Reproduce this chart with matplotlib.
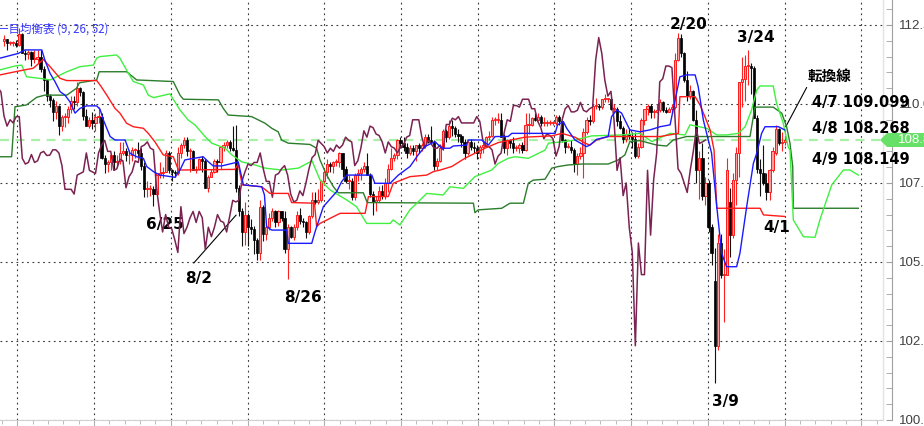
import numpy as np
import matplotlib
matplotlib.use("Agg")
import matplotlib.pyplot as plt
import matplotlib.transforms as mtransforms
from matplotlib.patches import Polygon
from matplotlib.ticker import FixedLocator, MultipleLocator, FormatStrFormatter

plt.rcParams['font.family'] = ['Liberation Sans', 'DejaVu Sans']

# ---------------- daily OHLC, 2019-04-17 .. 2020-04-09 (weekdays) ----------------
opens = [
    # Apr 2019
    111.98, 112.07, 111.93, 111.93, 111.94, 111.86, 112.22, 111.62, 111.57, 111.64,
    # May
    111.41, 111.43, 111.50, 111.10, 110.75, 110.25, 110.12, 109.75, 109.95, 109.30, 109.60, 109.60,
    109.85, 110.08, 110.07, 110.52, 110.38, 109.62, 109.30, 109.50, 109.40, 109.60, 109.60,
    # Jun
    108.28, 108.10, 108.15, 108.40, 108.15, 108.20, 108.45, 108.50, 108.37, 108.38, 108.55, 108.55,
    108.45, 108.05, 107.30, 107.30, 107.30, 107.15, 107.75, 107.80,
    # Jul
    107.85, 108.45, 107.90, 107.85, 107.80, 108.45, 108.70, 108.85, 108.50, 108.50, 107.90, 107.95,
    108.25, 108.20, 107.35, 107.70, 107.85, 108.20, 108.15, 108.65, 108.70, 108.80, 108.60,
    # Aug
    108.55, 107.35, 106.60, 105.95, 106.50, 106.10, 106.05, 105.70, 105.30, 106.75, 105.90, 106.10,
    106.40, 106.60, 106.25, 106.60, 106.40, 105.40, 106.10, 105.80, 106.10, 106.50,
    # Sep
    106.30, 106.25, 105.95, 106.45, 106.95, 106.90, 106.95, 107.55, 107.85, 108.10, 108.05, 108.15,
    108.15, 108.45, 107.95, 107.55, 107.55, 107.05, 107.75, 107.80, 107.95,
    # Oct
    108.05, 107.75, 107.15, 106.90, 106.95, 107.25, 107.10, 107.50, 107.95, 108.30, 108.40, 108.85,
    108.75, 108.65, 108.45, 108.60, 108.50, 108.70, 108.60, 108.70, 108.95, 108.85, 108.80,
    # Nov
    108.05, 108.20, 108.60, 109.15, 108.95, 109.30, 109.25, 109.05, 109.00, 108.80, 108.45, 108.80,
    108.65, 108.60, 108.45, 108.65, 108.70, 108.95, 109.00, 109.50, 109.50,
    # Dec
    109.50, 108.95, 108.60, 108.85, 108.75, 108.60, 108.60, 108.70, 108.55, 109.35, 109.35, 109.55,
    109.50, 109.60, 109.40, 109.40, 109.40, 109.40, 109.40, 109.60, 109.45, 108.85,
    # Jan 2020
    108.65, 108.65, 108.55, 108.10, 108.35, 108.45, 109.10, 109.50, 109.45, 109.95, 109.95, 109.90,
    110.15, 110.15, 110.15, 109.85, 109.85, 109.45, 109.25, 108.90, 109.05, 109.00, 108.90,
    # Feb
    108.35, 108.65, 109.50, 109.85, 109.95, 109.75, 109.75, 109.80, 110.05, 109.80, 109.75, 109.85,
    109.90, 111.40, 112.10, 111.60, 110.75, 110.25, 110.40, 109.50,
    # Mar
    107.90, 108.30, 107.10, 107.50, 106.10, 104.40, 102.35, 105.60, 104.60, 104.60, 106.90, 105.85,
    107.60, 108.45, 110.70, 110.80, 111.20, 111.20, 111.15, 109.55, 107.95, 107.80,
    # Apr
    107.50, 107.20, 107.90, 108.45, 109.20, 108.75, 108.80,
]
highs = [
    112.17, 112.07, 111.98, 112.00, 112.04, 112.40, 112.25, 111.70, 111.72, 111.68,
    111.70, 111.70, 111.70, 111.20, 110.80, 110.30, 110.20, 110.10, 109.98, 109.65, 109.70, 109.95,
    110.25, 110.25, 110.68, 110.55, 110.40, 109.85, 109.60, 109.75, 109.70, 109.90, 109.70,
    108.40, 108.22, 108.42, 108.50, 108.40, 108.80, 108.80, 108.60, 108.55, 108.65, 108.60, 108.80,
    108.60, 108.15, 107.55, 107.45, 107.40, 107.80, 108.15, 108.00,
    108.55, 108.50, 107.95, 107.90, 108.65, 108.75, 108.95, 108.95, 108.60, 108.55, 108.05, 108.30,
    108.35, 108.25, 107.75, 107.95, 108.25, 108.25, 108.65, 108.80, 108.85, 108.85, 109.30,
    109.32, 107.45, 106.70, 106.90, 106.55, 106.35, 106.15, 105.75, 106.97, 106.80, 106.30, 106.55,
    106.70, 106.65, 106.65, 106.60, 106.60, 106.20, 106.15, 106.20, 106.60, 106.70,
    106.40, 106.30, 106.50, 107.20, 107.20, 107.30, 107.60, 107.95, 108.25, 108.15, 108.20, 108.25,
    108.48, 108.45, 108.05, 107.75, 107.65, 107.80, 107.95, 108.00, 108.15,
    108.45, 107.80, 107.25, 107.10, 107.40, 107.45, 107.65, 108.10, 108.60, 108.45, 108.90, 108.95,
    108.95, 108.75, 108.70, 108.70, 108.70, 108.75, 108.75, 109.05, 109.05, 109.30, 108.85,
    108.30, 108.70, 109.20, 109.20, 109.50, 109.50, 109.30, 109.20, 109.05, 108.90, 108.85, 108.90,
    108.80, 108.70, 108.70, 108.80, 109.00, 109.15, 109.60, 109.60, 109.70,
    109.70, 109.05, 108.90, 108.90, 108.95, 108.70, 108.75, 108.80, 109.70, 109.70, 109.60, 109.70,
    109.70, 109.65, 109.60, 109.50, 109.50, 109.45, 109.65, 109.65, 109.50, 108.90,
    108.75, 108.85, 108.60, 108.45, 108.65, 109.25, 109.60, 109.65, 110.00, 110.20, 110.00, 110.15,
    110.30, 110.20, 110.20, 110.00, 109.90, 109.65, 109.30, 109.20, 109.25, 109.10, 109.10,
    108.75, 109.55, 109.85, 110.00, 110.00, 109.85, 110.00, 110.15, 110.10, 109.90, 109.90, 110.00,
    111.60, 112.23, 112.20, 111.65, 111.05, 110.60, 110.45, 109.80,
    108.50, 108.75, 107.70, 107.60, 106.20, 105.45, 105.90, 105.90, 105.40, 108.30, 107.35, 107.80,
    108.65, 110.70, 111.50, 111.55, 111.71, 111.30, 111.20, 109.65, 108.25, 108.70,
    107.80, 107.95, 108.65, 109.35, 109.25, 109.10, 109.00,
]
lows = [
    111.82, 111.70, 111.86, 111.82, 111.80, 111.82, 111.60, 111.38, 111.43, 111.20,
    111.30, 111.30, 111.00, 110.40, 110.10, 109.90, 109.47, 109.52, 109.02, 109.15, 109.27, 109.40,
    109.70, 109.85, 109.95, 110.25, 109.48, 109.30, 109.25, 109.20, 109.15, 109.40, 108.25,
    107.83, 107.85, 107.90, 107.90, 108.00, 108.10, 108.40, 108.20, 108.10, 108.20, 108.30, 108.30,
    107.90, 107.05, 107.05, 107.10, 106.78, 107.15, 107.65, 107.65,
    107.85, 107.80, 107.55, 107.70, 107.75, 108.30, 108.60, 108.35, 107.85, 107.90, 107.80, 107.90,
    107.85, 107.35, 107.20, 107.70, 107.80, 107.85, 107.95, 108.50, 108.60, 108.50, 108.50,
    107.20, 106.45, 105.50, 105.55, 105.50, 105.90, 105.25, 105.05, 105.05, 105.65, 105.70, 106.00,
    106.30, 106.10, 106.15, 106.30, 105.30, 104.45, 105.75, 105.70, 106.00, 106.20,
    106.10, 105.75, 105.90, 106.40, 106.85, 106.85, 106.90, 107.45, 107.65, 107.85, 107.80, 108.05,
    108.00, 107.70, 107.50, 107.30, 106.95, 106.95, 107.55, 107.60, 107.85,
    107.75, 107.05, 106.50, 106.60, 106.90, 107.00, 107.00, 107.20, 107.90, 108.20, 108.25, 108.60,
    108.50, 108.30, 108.40, 108.40, 108.20, 108.45, 108.50, 108.65, 108.75, 108.75, 107.90,
    107.90, 108.15, 108.55, 108.80, 108.90, 109.00, 108.95, 108.80, 108.65, 108.25, 108.40, 108.55,
    108.45, 108.25, 108.30, 108.45, 108.65, 108.85, 108.95, 109.35, 109.40,
    108.95, 108.45, 108.40, 108.60, 108.45, 108.50, 108.45, 108.45, 108.50, 109.05, 109.30, 109.45,
    109.45, 109.30, 109.30, 109.30, 109.35, 109.35, 109.35, 109.35, 108.80, 108.45,
    108.60, 108.45, 107.85, 107.75, 108.25, 107.65, 109.05, 109.35, 109.40, 109.85, 109.80, 109.85,
    110.05, 110.05, 109.80, 109.75, 109.30, 109.20, 108.75, 108.80, 108.90, 108.60, 108.30,
    108.30, 108.60, 109.35, 109.65, 109.55, 109.55, 109.70, 109.75, 109.75, 109.70, 109.75, 109.70,
    109.85, 111.35, 111.50, 110.70, 110.10, 110.15, 109.45, 107.50,
    107.00, 106.95, 106.80, 105.95, 104.90, 101.18, 102.20, 104.50, 103.10, 104.60, 105.15, 105.75,
    106.80, 107.70, 109.90, 110.10, 110.60, 110.30, 109.55, 107.80, 107.10, 107.45,
    106.95, 106.95, 107.85, 108.40, 108.70, 108.50, 108.70,
]
closes = [
    112.07, 111.93, 111.93, 111.94, 111.86, 112.22, 111.62, 111.57, 111.64, 111.41,
    111.43, 111.50, 111.10, 110.75, 110.25, 110.12, 109.75, 109.95, 109.30, 109.60, 109.60, 109.85,
    110.08, 110.07, 110.52, 110.38, 109.62, 109.30, 109.50, 109.40, 109.60, 109.60, 108.28,
    108.10, 108.15, 108.40, 108.15, 108.20, 108.45, 108.50, 108.37, 108.38, 108.55, 108.55, 108.45,
    108.05, 107.30, 107.30, 107.30, 107.15, 107.75, 107.80, 107.85,
    108.45, 107.90, 107.85, 107.80, 108.45, 108.70, 108.85, 108.50, 108.50, 107.90, 107.95, 108.25,
    108.20, 107.35, 107.70, 107.85, 108.20, 108.15, 108.65, 108.70, 108.80, 108.60, 108.55,
    107.35, 106.60, 105.95, 106.50, 106.10, 106.05, 105.70, 105.30, 106.75, 105.90, 106.10, 106.40,
    106.60, 106.25, 106.60, 106.40, 105.40, 106.10, 105.80, 106.10, 106.50, 106.30,
    106.25, 105.95, 106.45, 106.95, 106.90, 106.95, 107.55, 107.85, 108.10, 108.05, 108.15, 108.15,
    108.45, 107.95, 107.55, 107.55, 107.05, 107.75, 107.80, 107.95, 108.05,
    107.75, 107.15, 106.90, 106.95, 107.25, 107.10, 107.50, 107.95, 108.30, 108.40, 108.85, 108.75,
    108.65, 108.45, 108.60, 108.50, 108.70, 108.60, 108.70, 108.95, 108.85, 108.80, 108.05,
    108.20, 108.60, 109.15, 108.95, 109.30, 109.25, 109.05, 109.00, 108.80, 108.45, 108.80, 108.65,
    108.60, 108.45, 108.65, 108.70, 108.95, 109.00, 109.50, 109.50, 109.50,
    108.95, 108.60, 108.85, 108.75, 108.60, 108.60, 108.70, 108.55, 109.35, 109.35, 109.55, 109.50,
    109.60, 109.40, 109.40, 109.40, 109.40, 109.40, 109.60, 109.45, 108.85, 108.65,
    108.65, 108.55, 108.10, 108.35, 108.45, 109.10, 109.50, 109.45, 109.95, 109.95, 109.90, 110.15,
    110.15, 110.15, 109.85, 109.85, 109.45, 109.25, 108.90, 109.05, 109.00, 108.90, 108.35,
    108.65, 109.50, 109.85, 109.95, 109.75, 109.75, 109.80, 110.05, 109.80, 109.75, 109.85, 109.90,
    111.40, 112.10, 111.60, 110.75, 110.25, 110.40, 109.50, 107.90,
    108.30, 107.10, 107.50, 106.10, 105.30, 102.35, 105.60, 104.60, 104.60, 107.90, 105.85, 107.60,
    108.45, 110.70, 110.80, 111.20, 111.20, 111.15, 109.55, 107.95, 107.80, 107.50,
    107.20, 107.90, 108.50, 109.20, 108.75, 108.80, 108.86,
]

# ---------------- Ichimoku lines (bar index, price) ----------------
tenkan = [(-1.3, 111.45), (4.7, 111.6), (6.9, 111.71), (12.4, 111.71), (13.4, 111.39), (15.1, 110.97),
          (16.7, 110.71), (18.4, 110.39), (20, 110.28), (21.6, 110.07), (23.3, 109.71), (24.9, 109.86),
          (27.1, 109.94), (30.4, 109.94), (31.5, 109.83), (32.6, 109.49), (34.8, 108.97), (36.4, 108.86),
          (39.7, 108.86), (41.3, 108.44), (43.5, 108.33), (45.7, 108.28), (46.8, 108.02), (49, 107.86),
          (51.1, 107.75), (56.1, 107.68), (57.7, 107.91), (59.3, 108.23), (65.3, 108.33), (67, 108.17),
          (68.6, 108.04), (71.4, 108.04), (75.7, 108.14), (76.8, 108.17), (78.5, 107.44), (84.5, 107.38),
          (85.4, 107.12), (86.1, 106.12), (87.8, 106.01), (92.7, 106.01), (93.2, 105.59), (100.9, 105.59),
          (102, 105.96), (104.7, 106.75), (109.1, 107.23), (110.7, 107.54), (112.4, 107.75), (120.6, 107.75),
          (121.6, 107.49), (126.6, 107.49), (129.3, 107.75), (133.1, 108.02), (135.8, 108.39), (138, 108.65),
          (141.3, 108.81), (143.5, 108.6), (146.2, 108.6), (147.3, 108.67), (151.7, 108.7), (152.2, 108.86),
          (156.6, 108.86), (158.8, 108.7), (161, 108.97), (165.3, 108.97), (166.5, 109.07), (180.7, 109.07),
          (181.5, 109.34), (183.4, 109.44), (184.5, 109.23), (187.2, 108.86), (191, 108.65), (192.1, 108.7),
          (194.3, 108.88), (198.1, 108.97), (199.2, 109.6), (200.9, 109.81), (202.5, 109.71), (203.6, 109.49),
          (205.2, 109.18), (208.5, 109.12), (211.8, 109.18), (215.1, 109.28), (218.4, 109.34), (220.5, 110.34),
          (221.6, 110.86), (223.8, 110.92), (226.6, 110.92), (227.6, 110.55), (229.3, 109.49), (232, 108.44),
          (233.7, 106.75), (235.3, 105.28), (236.9, 104.85), (240.2, 104.85), (241.3, 105.28), (243.5, 106.75),
          (245.7, 108.12), (246.8, 108.44), (248.4, 109.07), (249.5, 109.28), (253.9, 109.28), (256, 109.18)]

kijun = [(-1.3, 110.92), (5.2, 111.05), (9.6, 111.13), (12.9, 111.41), (15.1, 111.18), (18.4, 110.81),
         (20.6, 110.74), (30.4, 110.74), (31.5, 110.6), (33.7, 110.28), (36.4, 109.86), (38, 109.71),
         (40.2, 109.39), (42.4, 109.28), (45.7, 109.23), (47.3, 109.07), (49.5, 108.8), (52.2, 108.39),
         (55.5, 108.33), (57.2, 107.91), (75.7, 107.93), (76.8, 108.1), (78.1, 107.44), (84.5, 107.38),
         (87.2, 107.17), (93.2, 107.17), (94.3, 106.88), (101.8, 106.86), (102.5, 106.12), (103.6, 106.22),
         (110.2, 106.54), (118.4, 106.54), (119.5, 107.07), (126, 107.07), (127.6, 107.49), (133.1, 107.7),
         (138.6, 107.75), (140.8, 107.86), (143, 107.91), (146.8, 108.02), (151.1, 108.28), (157.7, 108.6),
         (162.1, 108.78), (170.8, 108.95), (179.6, 108.99), (182.9, 109.07), (187.2, 108.95), (190.5, 108.76),
         (192.1, 108.7), (194.3, 108.86), (198.1, 108.97), (215.1, 108.97), (221.1, 109.07), (221.6, 110.23),
         (226.6, 110.23), (228.2, 109.97), (229.8, 109.6), (231.5, 109.18), (232.8, 108.54), (233.7, 106.7),
         (247.9, 106.7), (249, 106.49), (256, 106.44)]

span_a = [(-1.3, 111.08), (3.6, 111.2), (5.8, 111.23), (7.4, 110.86), (11.8, 110.81), (15.1, 110.76),
          (20.6, 111.02), (24.9, 111.18), (29.3, 111.23), (30.4, 111.45), (31.5, 111.5), (36.9, 111.55),
          (38, 111.45), (40.8, 110.97), (42.4, 110.71), (45.7, 110.6), (47.3, 110.28), (49, 110.2),
          (54.4, 110.32), (57.7, 109.81), (60.4, 109.49), (62.6, 109.34), (65.9, 108.97), (68.1, 108.76),
          (72.5, 108.6), (74.7, 108.39), (77.9, 108.17), (82.3, 108.07), (85.6, 107.97), (91, 107.91),
          (96.5, 107.97), (101, 108.2), (103.6, 107.6), (106.9, 107.28), (112.4, 106.96), (115.6, 106.75),
          (118.9, 106.22), (126.6, 106.22), (127.6, 106.33), (129.8, 106.17), (133.1, 106.65), (136.4, 106.96),
          (138.6, 107.17), (144, 107.12), (146.2, 107.38), (150.6, 107.33), (154.4, 107.7), (159.9, 107.91),
          (162.1, 108.12), (165.3, 108.28), (167.5, 108.33), (171.9, 108.28), (177.4, 108.54), (178.5, 108.76),
          (183.9, 108.81), (187.2, 108.86), (192.7, 108.99), (202.5, 109.02), (208.5, 109.07), (212.4, 108.81),
          (218.4, 109.07), (223.3, 109.02), (224.9, 109.34), (230.4, 109.23), (233.7, 109.02), (236.9, 109.02),
          (240.8, 109.07), (243, 109.28), (245.1, 109.81), (246.8, 110.44), (247.9, 110.57), (252.2, 110.57),
          (253.3, 110.02), (255.5, 109.39), (257.1, 108.65), (257.7, 108.54), (258.8, 106.33), (262.1, 105.8),
          (265.9, 105.78), (267.5, 106.33), (269.7, 106.96), (271.4, 107.44), (275.2, 107.91), (277.4, 107.91),
          (280.1, 107.75)]

span_b = [(-1.3, 108.33), (2.5, 108.33), (3.1, 109.18), (3.6, 109.91), (7.4, 109.97), (10.7, 110.21),
          (13.4, 110.28), (20.6, 110.28), (23.8, 110.5), (24.7, 110.67), (30.4, 110.76), (31.2, 111.02),
          (40.2, 111.02), (43.5, 110.76), (55.5, 110.71), (57.7, 110.28), (58.8, 110.15), (70.3, 110.13),
          (71.9, 109.86), (73.5, 109.65), (81.2, 109.6), (85.6, 109.39), (87.8, 109.23), (89.9, 109.12),
          (91, 108.86), (93.2, 108.76), (100.3, 108.72), (102.5, 108.6), (103.6, 108.23), (105.8, 107.75),
          (108, 107.38), (109.6, 107.19), (117.8, 107.19), (119.1, 106.88), (153.9, 106.86), (154.4, 106.56),
          (155.5, 106.65), (163.2, 106.7), (165.9, 106.86), (170.3, 106.86), (171.9, 107.49), (173.5, 107.59),
          (177.4, 107.62), (179.6, 107.97), (181.7, 108.02), (185, 108.07), (189.4, 108.1), (198.1, 108.1),
          (201.4, 108.23), (203.6, 108.39), (205.2, 108.81), (208.5, 108.84), (214, 108.7), (217.3, 108.67),
          (219.4, 108.86), (223.8, 108.97), (244.6, 108.97), (246.2, 109.9), (252.2, 109.9), (255, 109.71),
          (256.6, 109.28), (257.7, 108.76), (258.6, 108.02), (258.8, 106.7), (280.1, 106.7)]

chikou_shift = 26
y_ticks = [100.0, 102.5, 105.0, 107.5, 110.0, 112.5]
tenkan_notes = ["4/7 109.099", "4/8 108.268", "4/9 108.149"]

# ---------------- figure ----------------
n = min(len(opens), len(highs), len(lows), len(closes))
o = np.array(opens[:n]); h = np.array(highs[:n]); l = np.array(lows[:n]); c = np.array(closes[:n])
x = np.arange(n)

W, H = 924, 426
PX = 72 / 100  # points per pixel
fig = plt.figure(figsize=(W / 100, H / 100), dpi=100)
fig.patch.set_facecolor('white')
ax = fig.add_axes([0, (H - 420) / H, 883 / W, 420 / H])
ax.set_facecolor('white')
ax.set_xlim(-1.31, 288.2)
ax.set_ylim(100.0, 113.29)

grid_x = [4.36 + 25.16 * k for k in range(12)]
ax.xaxis.set_major_locator(FixedLocator(grid_x))
ax.xaxis.set_minor_locator(FixedLocator([4.36 + 5.032 * k for k in range(-1, 58)]))
ax.yaxis.set_major_locator(FixedLocator(y_ticks))
ax.yaxis.set_minor_locator(MultipleLocator(0.5))
ax.grid(True, which='major', color='#3a3a3a', ls=(0, (1.6, 3.2)), lw=0.8)
ax.set_axisbelow(True)

# current price dashed line
ax.axhline(c[-1], color='#a8f0a8', lw=1.6, ls=(0, (4, 3)), zorder=1.5)

# candles
up = c >= o
bot = np.minimum(o, c)
bh = np.maximum(np.abs(c - o), 0.03)
ax.vlines(x[up], l[up], h[up], colors='#ff2020', lw=0.8, zorder=3)
ax.vlines(x[~up], l[~up], h[~up], colors='#111111', lw=0.8, zorder=3)
ax.bar(x[up], bh[up], bottom=bot[up], width=0.72, color='#ff9c9c', edgecolor='#ff1a1a', lw=0.7, zorder=4)
ax.bar(x[~up], bh[~up], bottom=bot[~up], width=0.72, color='black', edgecolor='black', lw=0.5, zorder=4)

def xy(pts):
    a = np.array(pts)
    return a[:, 0], a[:, 1]

ax.plot(*xy(span_b), color='#2b7d2b', lw=1.0, zorder=5)
ax.plot(*xy(span_a), color='#40f040', lw=1.0, zorder=5)
ax.plot(x - chikou_shift, c, color='#7a2352', lw=1.1, zorder=6)
ax.plot(*xy(kijun), color='#ff1a1a', lw=1.0, zorder=6)
ax.plot(*xy(tenkan), color='#1a1aff', lw=1.0, zorder=6)

# axes styling
for s in ['top', 'left']:
    ax.spines[s].set_visible(False)
ax.spines['bottom'].set_color('#d0d0d0')
ax.spines['right'].set_color('#a0a0a0')
ax.spines['right'].set_position(('outward', 9 * PX))
ax.yaxis.tick_right()
ax.yaxis.set_major_formatter(FormatStrFormatter('%.1f'))
ax.tick_params(axis='y', which='both', direction='in', length=4, color='#a0a0a0',
               labelsize=9.5, labelcolor='#404040', pad=7 * PX)
ax.tick_params(axis='x', which='major', direction='out', length=7, color='#b0b0b0', labelbottom=False)
ax.tick_params(axis='x', which='minor', direction='out', length=3, color='#b0b0b0')
ax.plot([1, 1], [0, 1], transform=ax.transAxes, color='#e2e2e2', lw=1, clip_on=False, zorder=7)

# current price tag
tr = mtransforms.blended_transform_factory(fig.transFigure, ax.transData)
hh = 7 / 31.6
tag = Polygon([(880 / W, c[-1]), (887 / W, c[-1] + hh), (1.0, c[-1] + hh), (1.0, c[-1] - hh),
               (887 / W, c[-1] - hh)], closed=True, transform=tr, facecolor='#66e066',
              edgecolor='none', zorder=10)
fig.add_artist(tag)
fig.text(898 / W, c[-1], f'{c[-1]:.3f}', transform=tr, color='white', fontsize=9.5,
         va='center', ha='left', zorder=11)

# annotations
bold = dict(family='DejaVu Sans', fontweight='bold', color='black', ha='center', va='center', fontsize=11)
ax.text(52.8, 106.2, '6/25', **bold)
ax.text(63.9, 104.49, '8/2', **bold)
ax.text(98.0, 103.89, '8/26', **bold)
ax.text(224.6, 112.53, '2/20', **bold)
ax.text(246.6, 112.09, '3/24', **bold)
ax.text(236.7, 100.6, '3/9', **bold)
ax.text(253.4, 106.08, '4/1', **bold)
ax.annotate('', xy=(76.7, 106.55), xytext=(61.6, 104.9),
            arrowprops=dict(arrowstyle='-', color='black', lw=0.8))
ax.text(270.5, 110.89, '転換線', family=['Noto Sans CJK JP', 'DejaVu Sans'], fontweight='bold',
        fontsize=10.5, ha='center', va='center', color='black')
ax.annotate('', xy=(256.1, 109.24), xytext=(263.6, 110.6),
            arrowprops=dict(arrowstyle='-', color='black', lw=0.8))
for txt, py in zip(tenkan_notes, [110.06, 109.21, 108.23]):
    ax.text(264.9, py, txt, family='DejaVu Sans', fontweight='bold', fontsize=10.5,
            ha='left', va='center', color='black', zorder=12)

fig.text(-3 / W, 1 - 29 / H, '一目均衡表 (9, 26, 52)', family=['Noto Sans CJK JP', 'DejaVu Sans'],
         fontsize=8.3, color='#3b3bff', ha='left', va='center')

fig.savefig('out.png', dpi=100, facecolor='white')
